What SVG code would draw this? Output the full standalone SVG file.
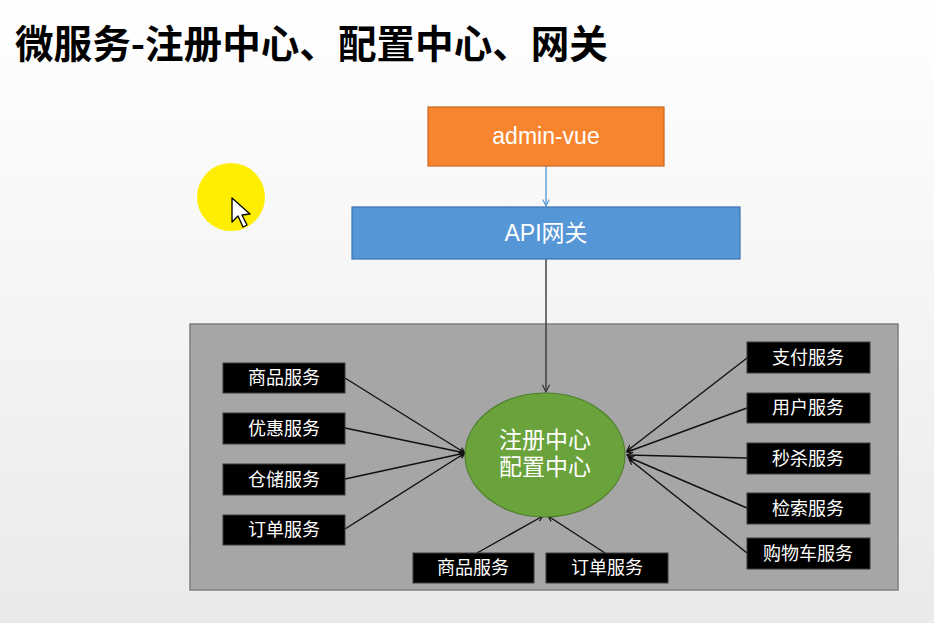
<svg xmlns="http://www.w3.org/2000/svg" width="934" height="623" viewBox="0 0 934 623">
  <defs>
    <linearGradient id="bg" x1="0" y1="0" x2="0" y2="1">
      <stop offset="0" stop-color="#FFFFFF"/>
      <stop offset="1" stop-color="#EAEAEA"/>
    </linearGradient>
    <marker id="arrDark" viewBox="0 0 10 10" refX="9" refY="5" markerWidth="7" markerHeight="7" markerUnits="userSpaceOnUse" orient="auto">
      <path d="M1,1 L9,5 L1,9" fill="none" stroke="#111111" stroke-width="1.7"/>
    </marker>
    <marker id="arrBlue" viewBox="0 0 10 10" refX="9" refY="5" markerWidth="8" markerHeight="8" markerUnits="userSpaceOnUse" orient="auto">
      <path d="M1,1 L9,5 L1,9" fill="none" stroke="#5B9BD5" stroke-width="1.4"/>
    </marker>
    <marker id="arrGray" viewBox="0 0 10 10" refX="9" refY="5" markerWidth="9" markerHeight="9" markerUnits="userSpaceOnUse" orient="auto">
      <path d="M1,1 L9,5 L1,9" fill="none" stroke="#3A3A3A" stroke-width="1.4"/>
    </marker>
  </defs>
  <style>
    .title { font-family: "Noto Sans CJK SC", "Liberation Sans", sans-serif; font-weight: 700; font-size: 38.6px; fill: #000000; }
    .svc rect { fill: #000000; stroke: #3A3A3A; stroke-width: 1; }
    .svc text { font-family: "Noto Sans CJK SC", "Liberation Sans", sans-serif; font-size: 18px; fill: #FFFFFF; text-anchor: middle; }
    .lbl { font-family: "Liberation Sans", "Noto Sans CJK SC", sans-serif; font-size: 23px; fill: #FFFFFF; text-anchor: middle; }
    .ctr { font-family: "Liberation Sans", "Noto Sans CJK SC", sans-serif; font-size: 23px; fill: #FFFFFF; text-anchor: middle; }
    .edge { stroke: #111111; stroke-width: 1.4; fill: none; marker-end: url(#arrDark); }
  </style>

  <rect x="0" y="0" width="934" height="623" fill="url(#bg)"/>

  <text class="title" x="15" y="58">微服务-注册中心、配置中心、网关</text>

  <!-- cursor highlight -->
  <circle cx="231" cy="197" r="34" fill="#FFEE00"/>
  <path d="M232,198 L232,222 L238,216 L243,227 L247,225 L242,215 L250,214 Z" fill="#FFFFFF" stroke="#000000" stroke-width="1.3" stroke-linejoin="round"/>

  <!-- panel -->
  <rect id="panel" x="190" y="324" width="708" height="266" fill="#A6A6A6" stroke="#7F7F7F" stroke-width="1.5"/>

  <g id="connectors">
    <line x1="546" y1="166" x2="546" y2="206" stroke="#5B9BD5" stroke-width="1.4" marker-end="url(#arrBlue)"/>
    <line x1="546" y1="259" x2="546" y2="392" stroke="#3A3A3A" stroke-width="1.4" marker-end="url(#arrGray)"/>
    <line class="edge" x1="345" y1="378" x2="465" y2="453"/>
    <line class="edge" x1="345" y1="428" x2="465" y2="453"/>
    <line class="edge" x1="345" y1="479" x2="465" y2="453"/>
    <line class="edge" x1="345" y1="529" x2="465" y2="453"/>
    <line class="edge" x1="747" y1="358" x2="627" y2="451"/>
    <line class="edge" x1="747" y1="408" x2="627" y2="452"/>
    <line class="edge" x1="747" y1="458" x2="627" y2="455"/>
    <line class="edge" x1="747" y1="508" x2="628" y2="457"/>
    <line class="edge" x1="747" y1="553" x2="629" y2="459"/>
    <line class="edge" x1="477" y1="553" x2="543" y2="516"/>
    <line class="edge" x1="605" y1="553" x2="548" y2="516"/>
  </g>

  <g id="admin-vue">
    <rect x="428" y="107" width="236" height="59" fill="#F7842E" stroke="#C8661E" stroke-width="1.2"/>
    <text class="lbl" x="546" y="144">admin-vue</text>
  </g>

  <g id="api-gateway">
    <rect x="352" y="207" width="388" height="52" fill="#5597D6" stroke="#3B73AE" stroke-width="1.2"/>
    <text class="lbl" x="546" y="241">API网关</text>
  </g>

  <g id="center">
    <ellipse cx="545" cy="455" rx="80" ry="62" fill="#6AA33C" stroke="#4D7D2A" stroke-width="1.2"/>
    <text class="ctr"><tspan x="545" y="448">注册中心</tspan><tspan x="545" y="475">配置中心</tspan></text>
  </g>

  <g id="svc-goods-left" class="svc"><rect x="223" y="363" width="122" height="30"/><text x="284" y="384">商品服务</text></g>
  <g id="svc-coupon" class="svc"><rect x="223" y="413" width="122" height="31"/><text x="284" y="434.5">优惠服务</text></g>
  <g id="svc-ware" class="svc"><rect x="223" y="464" width="122" height="31"/><text x="284" y="485.5">仓储服务</text></g>
  <g id="svc-order-left" class="svc"><rect x="223" y="515" width="122" height="30"/><text x="284" y="536">订单服务</text></g>

  <g id="svc-pay" class="svc"><rect x="747" y="342" width="123" height="31"/><text x="808" y="363.5">支付服务</text></g>
  <g id="svc-user" class="svc"><rect x="747" y="393" width="123" height="30"/><text x="808" y="414">用户服务</text></g>
  <g id="svc-seckill" class="svc"><rect x="747" y="443" width="123" height="31"/><text x="808" y="464.5">秒杀服务</text></g>
  <g id="svc-search" class="svc"><rect x="747" y="493" width="123" height="31"/><text x="808" y="514.5">检索服务</text></g>
  <g id="svc-cart" class="svc"><rect x="747" y="538" width="123" height="31"/><text x="808" y="559.5">购物车服务</text></g>

  <g id="svc-goods-bottom" class="svc"><rect x="413" y="553" width="121" height="30"/><text x="473" y="574">商品服务</text></g>
  <g id="svc-order-bottom" class="svc"><rect x="546" y="553" width="122" height="30"/><text x="607" y="574">订单服务</text></g>
</svg>
